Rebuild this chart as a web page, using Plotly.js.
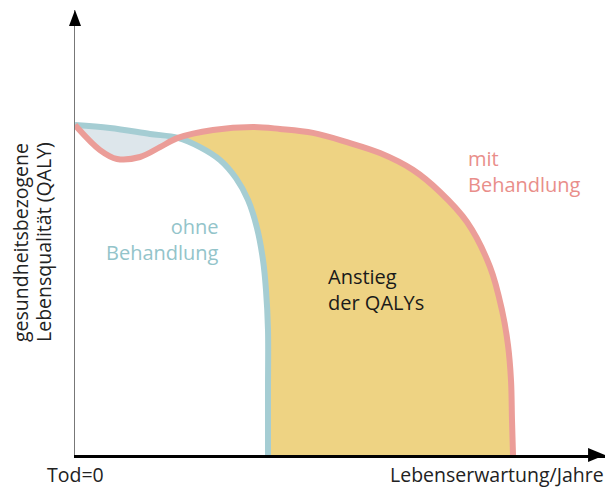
<!DOCTYPE html>
<html>
<head>
<meta charset="utf-8">
<script src="https://cdn.plot.ly/plotly-3.0.1.min.js"></script>
<style>
  html, body { margin: 0; padding: 0; background: #fff; }
  #plotDiv { width: 615px; height: 488px; }
</style>
</head>
<body>
<div id="plotDiv"></div>
<script>
// ohne Behandlung (Lebenserwartung in Jahren, Lebensqualitaet 0..1)
var ohneX = [0, 0.7, 1.5, 2.06, 2.5, 2.9, 3.22, 3.46, 3.64, 3.76, 3.82, 3.86, 3.86, 3.86];
var ohneY = [1.0, 0.991, 0.973, 0.961, 0.933, 0.894, 0.839, 0.773, 0.688, 0.591, 0.5, 0.379, 0.197, 0];

// mit Behandlung
var mitX = [0, 0.5, 0.84, 1.3, 1.7, 2.06, 2.76, 3.56, 4.1, 4.76, 5.44, 6.1, 6.76, 7.3, 7.84, 8.3, 8.54, 8.66, 8.72, 8.74, 8.76];
var mitY = [1.0, 0.924, 0.897, 0.903, 0.933, 0.961, 0.985, 0.994, 0.988, 0.976, 0.948, 0.915, 0.864, 0.797, 0.706, 0.570, 0.439, 0.333, 0.227, 0.106, 0];

var labelOhne = ['ohne', 'Behandlung'];
var labelMit = ['mit', 'Behandlung'];
var labelGain = ['Anstieg', 'der QALYs'];
var xTitle = 'Lebenserwartung/Jahre';
var xOrigin = 'Tod=0';
var yTitle = ['gesundheitsbezogene', 'Lebensqualität (QALY)'];

var blue = '#a5cdd3';
var red = '#eb9d98';
var yellow = '#eed383';
var lens = '#dde6eb';
var font = 'Open Sans, DejaVu Sans, sans-serif';

// Schnittpunkt der beiden Kurven (gemeinsamer Punkt)
var bi = ohneX.findIndex(function(x, i) { return i > 0 && mitX.indexOf(x) >= 0; });
var ri = mitX.indexOf(ohneX[bi]);

var spl = {shape: 'spline', smoothing: 1};

var areaMit = {
  x: mitX, y: mitY, type: 'scatter', mode: 'lines',
  fill: 'tozeroy', fillcolor: yellow,
  line: Object.assign({width: 0, color: yellow}, spl)
};
var areaOhne = {
  x: ohneX, y: ohneY, type: 'scatter', mode: 'lines',
  fill: 'tozeroy', fillcolor: '#ffffff',
  line: Object.assign({width: 0, color: '#ffffff'}, spl)
};
var areaLens = {
  x: ohneX.slice(0, bi + 1).concat(mitX.slice(0, ri + 1).reverse()),
  y: ohneY.slice(0, bi + 1).concat(mitY.slice(0, ri + 1).reverse()),
  type: 'scatter', mode: 'lines', fill: 'toself', fillcolor: lens,
  line: Object.assign({width: 0, color: lens}, spl)
};
var lineOhne = {
  x: ohneX, y: ohneY, type: 'scatter', mode: 'lines',
  line: Object.assign({width: 6, color: blue}, spl)
};
var lineMit = {
  x: mitX, y: mitY, type: 'scatter', mode: 'lines',
  line: Object.assign({width: 6, color: red}, spl)
};

var plotData = [areaMit, areaOhne, areaLens, lineOhne, lineMit];

function label(text, x, y, anchor, size, color, angle) {
  return {text: text, xref: 'paper', yref: 'paper', x: x, y: y, xanchor: anchor,
    yanchor: 'middle', align: anchor === 'center' ? 'center' : anchor,
    showarrow: false, textangle: angle || 0, borderpad: 0,
    font: {size: size, color: color}};
}

var layout = {
  width: 615,
  height: 488,
  margin: {l: 75, r: 10, t: 10, b: 33},
  paper_bgcolor: '#ffffff',
  plot_bgcolor: '#ffffff',
  showlegend: false,
  hovermode: false,
  font: {family: font, size: 18, color: '#1a1a1a'},
  xaxis: {
    range: [0, 10.6], showgrid: false, zeroline: false, showticklabels: false,
    ticks: '', showline: true, linecolor: '#000000', linewidth: 2.5, fixedrange: true
  },
  yaxis: {
    range: [0, 1.3485], showgrid: false, zeroline: false, showticklabels: false,
    ticks: '', showline: true, linecolor: '#777777', linewidth: 1.5, fixedrange: true
  },
  shapes: [
    {type: 'path', xref: 'paper', yref: 'paper', path: 'M -0.0113 0.964 L 0 1.0 L 0.0113 0.964 Z',
     fillcolor: '#000000', line: {width: 0}},
    {type: 'path', xref: 'paper', yref: 'paper', path: 'M 0.968 0.0157 L 1.0 0 L 0.968 -0.0157 Z',
     fillcolor: '#000000', line: {width: 0}}
  ],
  annotations: [
    label(xOrigin, 0, -0.0427, 'center', 19.5, '#222'),
    label(xTitle, 1.0, -0.0427, 'right', 19.5, '#222'),
    label(yTitle[0], -0.1019, 0.4787, 'center', 19.5, '#222', -90),
    label(yTitle[1], -0.0585, 0.4787, 'center', 19.5, '#222', -90),
    label(labelOhne.join('<br>'), 0.2736, 0.4843, 'right', 20, '#93c4ca'),
    label(labelMit.join('<br>'), 0.7396, 0.6382, 'left', 20, '#e98e8a'),
    label(labelGain.join('<br>'), 0.4755, 0.3719, 'left', 20, '#1a1a1a')
  ]
};

Plotly.newPlot('plotDiv', plotData, layout, {displayModeBar: false, staticPlot: true});
</script>
</body>
</html>
